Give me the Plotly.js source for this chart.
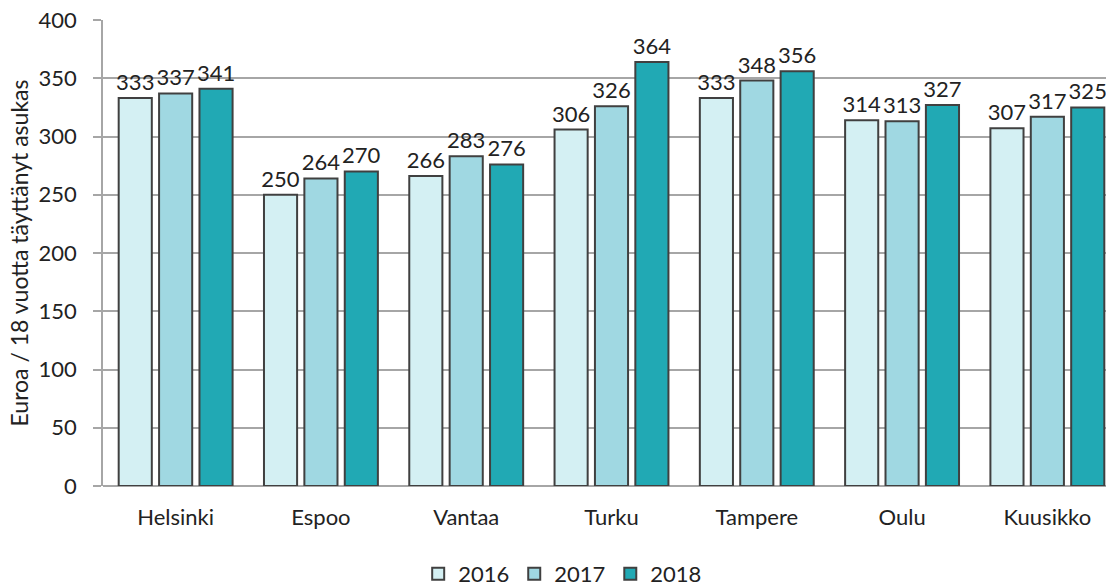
<!DOCTYPE html>
<html><head><meta charset="utf-8">
<script src="https://cdn.plot.ly/plotly-3.0.1.min.js"></script>
<style>html,body{margin:0;padding:0;overflow:hidden;background:#fff}</style>
</head><body><div id="chart"></div>
<script>
const categories = ["Helsinki","Espoo","Vantaa","Turku","Tampere","Oulu","Kuusikko"];
const years = ["2016","2017","2018"];
const v2016 = [333,250,266,306,333,314,307];
const v2017 = [337,264,283,326,348,313,317];
const v2018 = [341,270,276,364,356,327,325];
const colors = ["#d4f0f3","#a0d8e2","#21a9b4"];
const series = [v2016, v2017, v2018];
const FONT = 'Lato, sans-serif';
const traces = series.map((vals,i)=>({
  type:'bar', name:years[i], x:categories, y:vals,
  text:vals.map(String), textposition:'outside', cliponaxis:false, constraintext:'none',
  textfont:{family:FONT, size:22, color:'#222'},
  marker:{color:colors[i], line:{color:'#404040', width:2}}
}));
const layout = {
  width:1125, height:588,
  margin:{l:103,r:5,t:20,b:102, autoexpand:false},
  paper_bgcolor:'#fff', plot_bgcolor:'#fff',
  barmode:'group', bargap:0.166, bargroupgap:0.18,
  font:{family:FONT, size:22, color:'#222'},
  xaxis:{showline:false, ticks:'', showgrid:false, tickfont:{size:22}, ticklabelstandoff:16, automargin:false},
  yaxis:{range:[0,400], dtick:50, showgrid:true, gridcolor:'#a6a6a6', gridwidth:1.5,
    showline:true, linecolor:'#a6a6a6', linewidth:1.5, ticks:'outside', ticklen:8, tickcolor:'#a6a6a6', tickwidth:1.5,
    zeroline:true, zerolinecolor:'#a6a6a6', zerolinewidth:1.5, tickfont:{size:22}, ticklabelstandoff:12, automargin:false,
    title:{text:'Euroa / 18 vuotta täyttänyt asukas', font:{size:23}, standoff:4}},
  showlegend:true,
  legend:{orientation:'h', x:0.452, xanchor:'center', yref:'container', y:0.024, yanchor:'middle', font:{size:22}, traceorder:'normal', itemwidth:30}
};
Plotly.newPlot('chart', traces, layout, {displayModeBar:false});
</script></body></html>
